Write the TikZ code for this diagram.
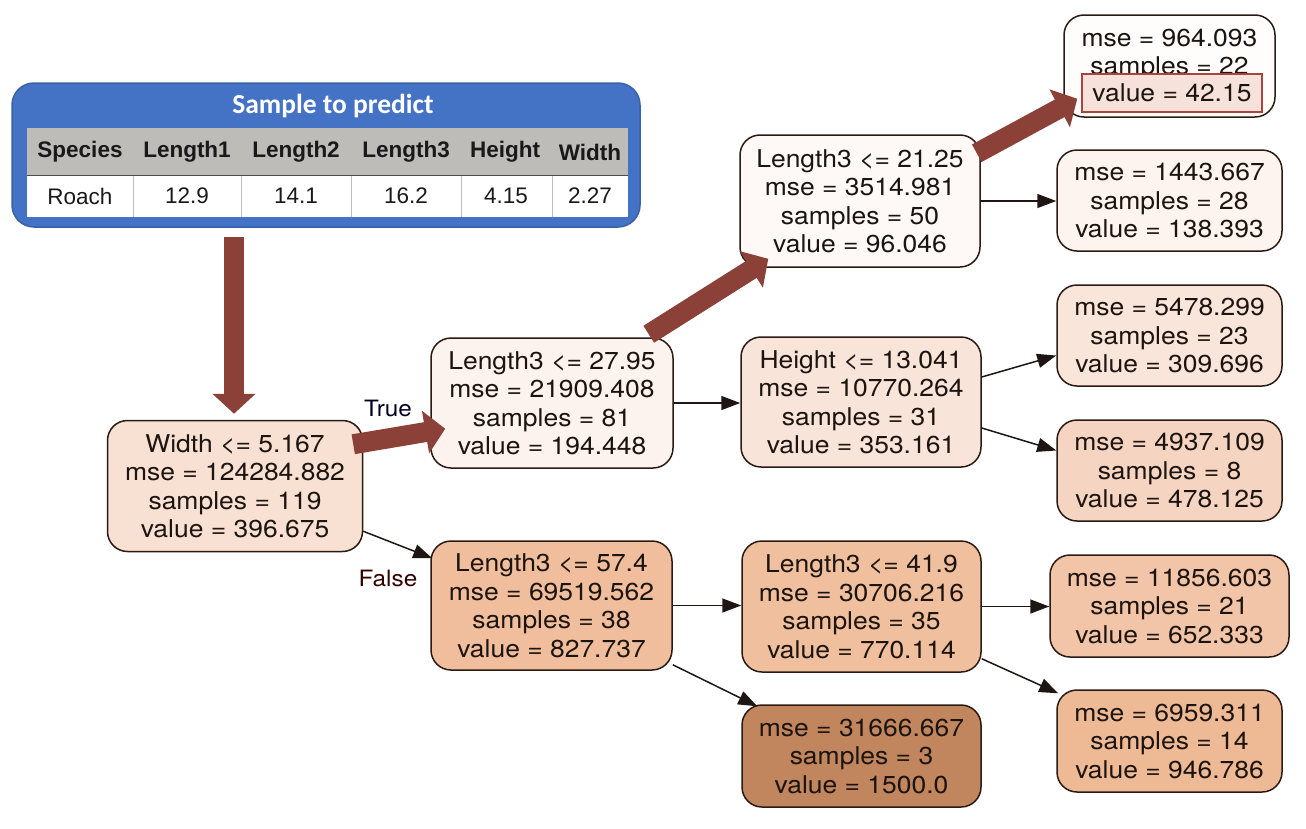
\documentclass[tikz,border=0pt]{standalone}
\usepackage{fontspec}
\setmainfont{TeX Gyre Heros}
\newfontfamily\nodefont{TeX Gyre Heros}[FakeStretch=1.08]
\newfontfamily\tabfont{Liberation Sans}
\newfontfamily\titlefont{Carlito}
\usetikzlibrary{arrows.meta,calc}
\definecolor{bigred}{HTML}{8B4038}
\definecolor{edgeblk}{HTML}{1E1612}
\definecolor{nodeborder}{HTML}{2A1A14}
\definecolor{txt}{HTML}{1C1410}
\definecolor{tblue}{HTML}{4472C4}
\definecolor{tgray}{HTML}{BEBCB8}
\definecolor{cRoot}{HTML}{F8E0D3}
\definecolor{cNa}{HTML}{FDF3EE}
\definecolor{cNb}{HTML}{F0BE9C}
\definecolor{cNc}{HTML}{FEF9F6}
\definecolor{cNd}{HTML}{F9E4D9}
\definecolor{cNe}{HTML}{F0BF9D}
\definecolor{cNf}{HTML}{C1865E}
\definecolor{cLa}{HTML}{FFFDFC}
\definecolor{cLb}{HTML}{FDF4EF}
\definecolor{cLc}{HTML}{FAE5DA}
\definecolor{cLd}{HTML}{F5D4C1}
\definecolor{cLe}{HTML}{F2C4A8}
\definecolor{cLf}{HTML}{EEB995}
\definecolor{hlfill}{HTML}{F6E2DA}
\definecolor{hlborder}{HTML}{A8443A}
\begin{document}
\begin{tikzpicture}[x=1pt,y=-1pt,
  tnode/.style={draw=nodeborder, line width=1.5pt, rounded corners=20pt,
    align=center, inner sep=0pt, text=txt,
    font=\nodefont\fontsize{24.5}{28.5}\selectfont},
  thin/.style={draw=edgeblk, line width=1.5pt, -{Triangle[length=19pt,width=14pt]}},
  bigarrow/.style={draw=bigred, line width=20pt, -{Triangle[length=20pt,width=42pt]}},
  lbl/.style={font=\nodefont\fontsize{22.5}{26}\selectfont, inner sep=0pt},
  hdr/.style={font=\tabfont\bfseries\fontsize{22.5}{25}\selectfont, text=black!90, inner sep=0pt},
  dat/.style={font=\tabfont\fontsize{22.5}{25}\selectfont, text=black!90, inner sep=0pt},
  sep/.style={draw=black!25, line width=1pt}
]
\useasboundingbox (0,0) rectangle (1306,828);

% ---------- sample table ----------
\node[draw=tblue!85!black, line width=1.5pt, fill=tblue, rounded corners=22pt,
      minimum width=628pt, minimum height=144pt, inner sep=0pt] (table) at (326,155) {};
\node[font=\titlefont\bfseries\fontsize{27.5}{30}\selectfont, text=white, inner sep=0pt] (title) at (333,106) {Sample to predict};
\fill[tgray] (27,128) rectangle (628,175);
\fill[white] (27,175) rectangle (628,217);
\draw[black!70, line width=1pt] (27,175) -- (628,175);
\foreach \x in {133,241,351,461,552} \draw[sep] (\x,176) -- (\x,217);
\node[hdr] (h1) at (80,152) {Species};
\node[hdr] (h2) at (187,152) {Length1};
\node[hdr] (h3) at (296,152) {Length2};
\node[hdr] (h4) at (406,152) {Length3};
\node[hdr] (h5) at (505,152) {Height};
\node[hdr] (h6) at (590,152) {Width};
\node[dat] (d1) at (80,196) {Roach};
\node[dat] (d2) at (187,196) {12.9};
\node[dat] (d3) at (296,196) {14.1};
\node[dat] (d4) at (406,196) {16.2};
\node[dat] (d5) at (506,196) {4.15};
\node[dat] (d6) at (590,196) {2.27};

% ---------- tree nodes ----------
\node[tnode, fill=cRoot, minimum width=255pt, minimum height=131pt] (root) at (235,486)
  {Width <= 5.167\\mse = 124284.882\\samples = 119\\value = 396.675};
\node[tnode, fill=cNa, minimum width=242pt, minimum height=130pt] (n1) at (552,403)
  {Length3 <= 27.95\\mse = 21909.408\\samples = 81\\value = 194.448};
\node[tnode, fill=cNb, minimum width=241pt, minimum height=129pt] (n2) at (551.5,605.5)
  {Length3 <= 57.4\\mse = 69519.562\\samples = 38\\value = 827.737};
\node[tnode, fill=cNc, minimum width=240pt, minimum height=132pt] (n3) at (860,201)
  {Length3 <= 21.25\\mse = 3514.981\\samples = 50\\value = 96.046};
\node[tnode, fill=cNd, minimum width=240pt, minimum height=130pt] (n4) at (861,402)
  {Height <= 13.041\\mse = 10770.264\\samples = 31\\value = 353.161};
\node[tnode, fill=cNe, minimum width=239pt, minimum height=131pt] (n5) at (861.5,606.5)
  {Length3 <= 41.9\\mse = 30706.216\\samples = 35\\value = 770.114};
\node[tnode, fill=cNf, minimum width=239pt, minimum height=102pt] (n6) at (861.5,756)
  {mse = 31666.667\\samples = 3\\value = 1500.0};
\node[tnode, fill=cLa, minimum width=211pt, minimum height=102pt] (l1) at (1169.5,66)
  {mse = 964.093\\samples = 22\\\phantom{value = 42.15}};
\node[draw=hlborder, line width=1.5pt, fill=hlfill, minimum width=180pt, minimum height=38pt,
      inner sep=0pt, text=txt, font=\nodefont\fontsize{24.5}{28.5}\selectfont] (hl)
  at ($(l1.center)+(2.5,27)$) {value = 42.15};
\node[tnode, fill=cLb, minimum width=225pt, minimum height=101pt] (l2) at (1169.5,200.5)
  {mse = 1443.667\\samples = 28\\value = 138.393};
\node[tnode, fill=cLc, minimum width=225pt, minimum height=101pt] (l3) at (1169.5,335.5)
  {mse = 5478.299\\samples = 23\\value = 309.696};
\node[tnode, fill=cLd, minimum width=225pt, minimum height=101pt] (l4) at (1169.5,470.5)
  {mse = 4937.109\\samples = 8\\value = 478.125};
\node[tnode, fill=cLe, minimum width=239pt, minimum height=102pt] (l5) at (1169.5,606)
  {mse = 11856.603\\samples = 21\\value = 652.333};
\node[tnode, fill=cLf, minimum width=225pt, minimum height=102pt] (l6) at (1169.5,741)
  {mse = 6959.311\\samples = 14\\value = 946.786};

% ---------- thin edges ----------
\draw[thin] (n1.east) -- (n1.east -| n4.west);
\draw[thin] ($(root.south east)+(0,-21)$) -- ($(n2.north west)+(2,18)$);
\draw[thin] (n2.east) -- (n2.east -| n5.west);
\draw[thin] ($(n2.south east)+(0,-6)$) -- ($(n6.north west)+(16,2)$);
\draw[thin] (n3.east) -- (n3.east -| l2.west);
\draw[thin] ($(n4.east)+(0,-25)$) -- ($(l3.west)+(0,20)$);
\draw[thin] ($(n4.east)+(0,26)$) -- ($(l4.west)+(0,-20)$);
\draw[thin] (n5.east) -- (n5.east -| l5.west);
\draw[thin] ($(n5.south east)+(0,-14)$) -- ($(l6.north west)+(2,4)$);

% ---------- edge labels ----------
\node[lbl, text=black!85!blue] (true) at (388,408) {True};
\node[lbl, text=black!80!red] (false) at (388,578) {False};

% ---------- decision path ----------
\draw[bigarrow] ($(root.north |- table.south)+(-1,9)$) -- ($(root.north)+(-1,-6)$);
\draw[bigarrow] ($(root.north east)+(-10,24.5)$) -- ($(n1.south west)+(15,-40)$);
\draw[bigarrow] ($(n1.north east)+(-25,-3)$) -- ($(n3.south west)+(29,-9)$);
\draw[bigarrow] ($(n3.north east)+(-4,19)$) -- ($(l1.south west)+(14,-19)$);
\end{tikzpicture}
\end{document}
